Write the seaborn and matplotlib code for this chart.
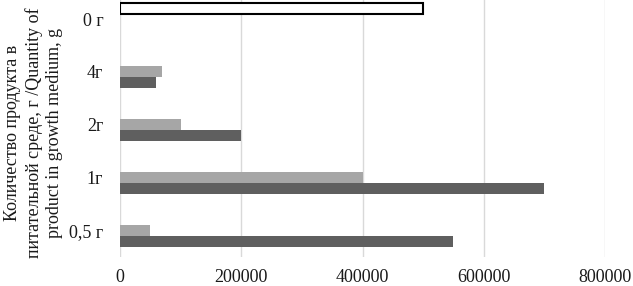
import pandas as pd
import numpy as np
import matplotlib
matplotlib.use('Agg')
import matplotlib.pyplot as plt
import seaborn as sns

# ===== Data =====
categories = ['0 г', '4г', '2г', '1г', '0,5 г']   # top to bottom
series_top = [500000, 0, 0, 0, 0]               # white, outlined
series_mid = [0, 70000, 100000, 400000, 50000]  # light gray
series_bot = [0, 60000, 200000, 700000, 550000] # dark gray
series_names = ['s3', 's2', 's1']

df = pd.DataFrame({
    'cat': categories * 3,
    'value': series_top + series_mid + series_bot,
    'series': [series_names[0]] * 5 + [series_names[1]] * 5 + [series_names[2]] * 5,
})

# ===== Plot =====
sns.set_style('white')
plt.rcParams['font.family'] = ['Liberation Serif', 'DejaVu Serif']

fig = plt.figure(figsize=(6.33, 2.86), dpi=100)
ax = fig.add_axes([0.1896, 0.1014, 0.9558 - 0.1896, 1.026 - 0.1014])

palette = {'s3': '#ffffff', 's2': '#a6a6a6', 's1': '#5f5f5f'}
sns.barplot(data=df, y='cat', x='value', hue='series', hue_order=series_names,
            order=categories, palette=palette, orient='h', width=0.62,
            saturation=1, linewidth=0, legend=False, ax=ax)

# outline only the visible white bar
for p in ax.containers[0]:
    if p.get_width() > 0:
        p.set_edgecolor('black')
        p.set_linewidth(1.5)

ax.set_xlim(0, 800000)
ax.set_xticks([0, 200000, 400000, 600000, 800000])
ax.set_xticklabels(['0', '200000', '400000', '600000', '800000'])
ax.xaxis.grid(True, color='#d9d9d9', linewidth=1)
ax.yaxis.grid(False)
ax.set_axisbelow(True)
sns.despine(ax=ax, left=True, bottom=True)
ax.tick_params(axis='x', length=0, pad=9, labelsize=13, colors='#1a1a1a')
ax.tick_params(axis='y', length=0, pad=12, labelsize=13, colors='#1a1a1a')

ax.set_xlabel('')
ax.set_ylabel('Количество продукта в\nпитательной среде, г /Quantity of\nproduct in growth medium, g',
              fontsize=13, linespacing=1.25, color='#1a1a1a')
ax.yaxis.set_label_coords(-0.118, 0.47)

fig.savefig('out.png', dpi=100)
